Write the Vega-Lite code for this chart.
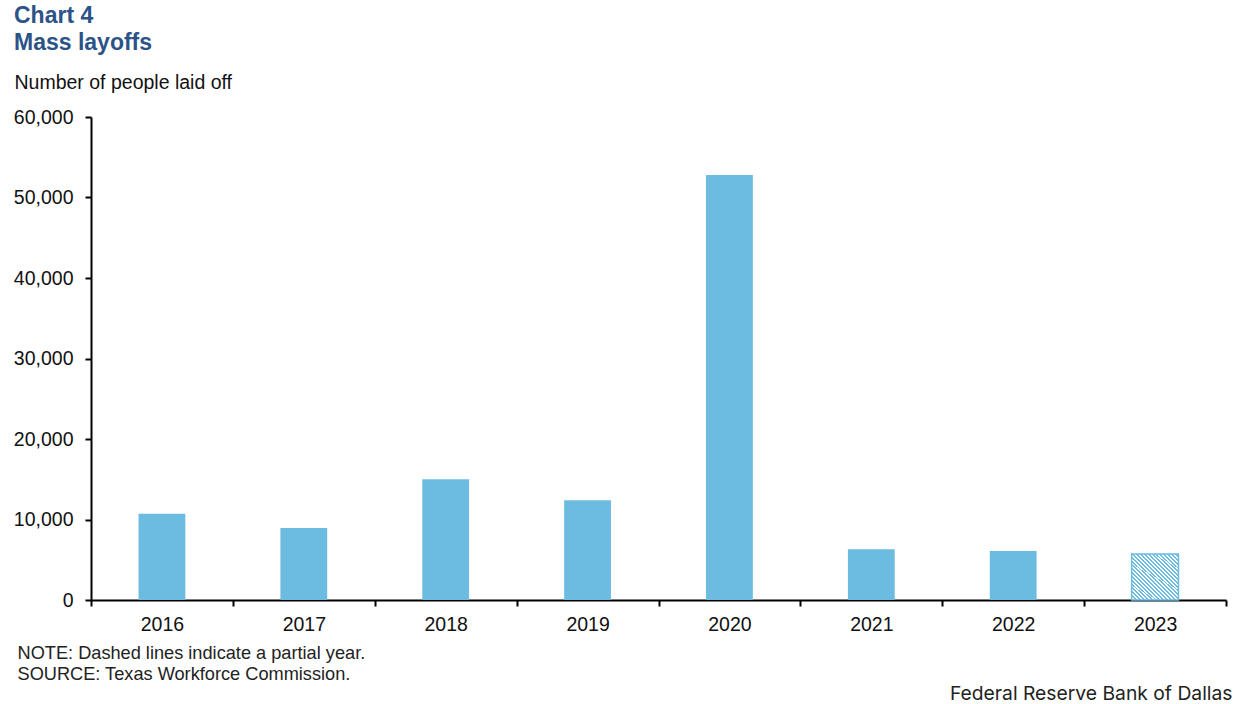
{
  "$schema": "https://vega.github.io/schema/vega-lite/v6.json",
  "autosize": {"type": "none"},
  "width": 1135,
  "height": 483,
  "padding": {"left": 91, "top": 117, "right": 18, "bottom": 104},
  "background": "white",
  "config": {
    "view": {"stroke": null},
    "font": "Liberation Sans",
    "axisX": {
      "title": ["NOTE: Dashed lines indicate a partial year.", "SOURCE: Texas Workforce Commission."],
      "titleX": -74,
      "titleY": 44,
      "titleAlign": "left",
      "titleAnchor": "start",
      "titleBaseline": "top",
      "titleFontSize": 18.2,
      "titleFontWeight": "normal",
      "titleLineHeight": 21.5,
      "titleColor": "#222222",
      "labelAngle": 0,
      "labelFontSize": 19.5,
      "labelColor": "#111111",
      "labelPadding": 9,
      "tickBand": "extent",
      "tickSize": 6,
      "tickWidth": 2,
      "tickColor": "black",
      "domainColor": "black",
      "domainWidth": 2
    }
  },
  "title": {
    "text": ["Chart 4", "Mass layoffs"],
    "anchor": "start",
    "frame": "group",
    "dx": -77,
    "fontSize": 23,
    "font": "Liberation Sans",
    "fontWeight": "bold",
    "color": "#2B5387",
    "lineHeight": 27,
    "offset": 17
  },
  "data": {
    "values": [
      {"year": "2016", "layoffs": 10700},
      {"year": "2017", "layoffs": 8950},
      {"year": "2018", "layoffs": 15000},
      {"year": "2019", "layoffs": 12400},
      {"year": "2020", "layoffs": 52800},
      {"year": "2021", "layoffs": 6300},
      {"year": "2022", "layoffs": 6100},
      {"year": "2023", "layoffs": 5700}
    ]
  },
  "layer": [
    {
      "transform": [{"filter": "datum.year !== '2023'"}],
      "mark": {"type": "bar", "width": {"band": 0.33}, "color": "#6CBBE0"},
      "encoding": {
        "x": {
          "field": "year",
          "type": "ordinal",
          "sort": null,
          "scale": {"domain": ["2016","2017","2018","2019","2020","2021","2022","2023"], "paddingInner": 0, "paddingOuter": 0},
          "axis": {"title": ["NOTE: Dashed lines indicate a partial year.", "SOURCE: Texas Workforce Commission."]}
        },
        "y": {
          "field": "layoffs",
          "type": "quantitative",
          "scale": {"domain": [0, 60000], "nice": false},
          "axis": {
            "title": "Number of people laid off",
            "titleAngle": 0,
            "titleX": -77,
            "titleY": -29,
            "titleAlign": "left",
            "titleBaseline": "alphabetic",
            "titleFontSize": 19.5,
            "titleFontWeight": "normal",
            "titleColor": "#111111",
            "values": [0, 10000, 20000, 30000, 40000, 50000, 60000],
            "format": ",.0f",
            "labelFontSize": 19.5,
            "labelColor": "#111111",
            "labelPadding": 12,
            "tickSize": 6,
            "tickWidth": 2,
            "tickColor": "black",
            "domainColor": "black",
            "domainWidth": 2,
            "grid": false
          }
        }
      }
    },
    {
      "transform": [{"filter": "datum.year === '2023'"}],
      "mark": {
        "type": "bar",
        "width": {"band": 0.33},
        "stroke": "#6CBBE0",
        "strokeWidth": 1.5,
        "fill": {
          "gradient": "linear",
          "x1": 0, "y1": 1, "x2": 1, "y2": 0,
          "stops": [
            {"offset": 0, "color": "#6CBBE0"}, {"offset": 0.0208, "color": "#6CBBE0"}, {"offset": 0.0208, "color": "#FFFFFF"}, {"offset": 0.0417, "color": "#FFFFFF"},
            {"offset": 0.0417, "color": "#6CBBE0"}, {"offset": 0.0625, "color": "#6CBBE0"}, {"offset": 0.0625, "color": "#FFFFFF"}, {"offset": 0.0833, "color": "#FFFFFF"},
            {"offset": 0.0833, "color": "#6CBBE0"}, {"offset": 0.1042, "color": "#6CBBE0"}, {"offset": 0.1042, "color": "#FFFFFF"}, {"offset": 0.125, "color": "#FFFFFF"},
            {"offset": 0.125, "color": "#6CBBE0"}, {"offset": 0.1458, "color": "#6CBBE0"}, {"offset": 0.1458, "color": "#FFFFFF"}, {"offset": 0.1667, "color": "#FFFFFF"},
            {"offset": 0.1667, "color": "#6CBBE0"}, {"offset": 0.1875, "color": "#6CBBE0"}, {"offset": 0.1875, "color": "#FFFFFF"}, {"offset": 0.2083, "color": "#FFFFFF"},
            {"offset": 0.2083, "color": "#6CBBE0"}, {"offset": 0.2292, "color": "#6CBBE0"}, {"offset": 0.2292, "color": "#FFFFFF"}, {"offset": 0.25, "color": "#FFFFFF"},
            {"offset": 0.25, "color": "#6CBBE0"}, {"offset": 0.2708, "color": "#6CBBE0"}, {"offset": 0.2708, "color": "#FFFFFF"}, {"offset": 0.2917, "color": "#FFFFFF"},
            {"offset": 0.2917, "color": "#6CBBE0"}, {"offset": 0.3125, "color": "#6CBBE0"}, {"offset": 0.3125, "color": "#FFFFFF"}, {"offset": 0.3333, "color": "#FFFFFF"},
            {"offset": 0.3333, "color": "#6CBBE0"}, {"offset": 0.3542, "color": "#6CBBE0"}, {"offset": 0.3542, "color": "#FFFFFF"}, {"offset": 0.375, "color": "#FFFFFF"},
            {"offset": 0.375, "color": "#6CBBE0"}, {"offset": 0.3958, "color": "#6CBBE0"}, {"offset": 0.3958, "color": "#FFFFFF"}, {"offset": 0.4167, "color": "#FFFFFF"},
            {"offset": 0.4167, "color": "#6CBBE0"}, {"offset": 0.4375, "color": "#6CBBE0"}, {"offset": 0.4375, "color": "#FFFFFF"}, {"offset": 0.4583, "color": "#FFFFFF"},
            {"offset": 0.4583, "color": "#6CBBE0"}, {"offset": 0.4792, "color": "#6CBBE0"}, {"offset": 0.4792, "color": "#FFFFFF"}, {"offset": 0.5, "color": "#FFFFFF"},
            {"offset": 0.5, "color": "#6CBBE0"}, {"offset": 0.5208, "color": "#6CBBE0"}, {"offset": 0.5208, "color": "#FFFFFF"}, {"offset": 0.5417, "color": "#FFFFFF"},
            {"offset": 0.5417, "color": "#6CBBE0"}, {"offset": 0.5625, "color": "#6CBBE0"}, {"offset": 0.5625, "color": "#FFFFFF"}, {"offset": 0.5833, "color": "#FFFFFF"},
            {"offset": 0.5833, "color": "#6CBBE0"}, {"offset": 0.6042, "color": "#6CBBE0"}, {"offset": 0.6042, "color": "#FFFFFF"}, {"offset": 0.625, "color": "#FFFFFF"},
            {"offset": 0.625, "color": "#6CBBE0"}, {"offset": 0.6458, "color": "#6CBBE0"}, {"offset": 0.6458, "color": "#FFFFFF"}, {"offset": 0.6667, "color": "#FFFFFF"},
            {"offset": 0.6667, "color": "#6CBBE0"}, {"offset": 0.6875, "color": "#6CBBE0"}, {"offset": 0.6875, "color": "#FFFFFF"}, {"offset": 0.7083, "color": "#FFFFFF"},
            {"offset": 0.7083, "color": "#6CBBE0"}, {"offset": 0.7292, "color": "#6CBBE0"}, {"offset": 0.7292, "color": "#FFFFFF"}, {"offset": 0.75, "color": "#FFFFFF"},
            {"offset": 0.75, "color": "#6CBBE0"}, {"offset": 0.7708, "color": "#6CBBE0"}, {"offset": 0.7708, "color": "#FFFFFF"}, {"offset": 0.7917, "color": "#FFFFFF"},
            {"offset": 0.7917, "color": "#6CBBE0"}, {"offset": 0.8125, "color": "#6CBBE0"}, {"offset": 0.8125, "color": "#FFFFFF"}, {"offset": 0.8333, "color": "#FFFFFF"},
            {"offset": 0.8333, "color": "#6CBBE0"}, {"offset": 0.8542, "color": "#6CBBE0"}, {"offset": 0.8542, "color": "#FFFFFF"}, {"offset": 0.875, "color": "#FFFFFF"},
            {"offset": 0.875, "color": "#6CBBE0"}, {"offset": 0.8958, "color": "#6CBBE0"}, {"offset": 0.8958, "color": "#FFFFFF"}, {"offset": 0.9167, "color": "#FFFFFF"},
            {"offset": 0.9167, "color": "#6CBBE0"}, {"offset": 0.9375, "color": "#6CBBE0"}, {"offset": 0.9375, "color": "#FFFFFF"}, {"offset": 0.9583, "color": "#FFFFFF"},
            {"offset": 0.9583, "color": "#6CBBE0"}, {"offset": 0.9792, "color": "#6CBBE0"}, {"offset": 0.9792, "color": "#FFFFFF"}, {"offset": 1, "color": "#FFFFFF"}
          ]
        }
      },
      "encoding": {
        "x": {
          "field": "year",
          "type": "ordinal",
          "sort": null,
          "axis": {"title": ["NOTE: Dashed lines indicate a partial year.", "SOURCE: Texas Workforce Commission."]}
        },
        "y": {
          "field": "layoffs",
          "type": "quantitative",
          "scale": {"domain": [0, 60000], "nice": false},
          "axis": {
            "orient": "right",
            "title": "Federal Reserve Bank of Dallas",
            "titleAngle": 0,
            "titleX": 6,
            "titleY": 582,
            "titleAlign": "right",
            "titleBaseline": "alphabetic",
            "titleFont": "Inter",
            "titleFontSize": 19.3,
            "titleFontWeight": "normal",
            "titleColor": "#222222",
            "labels": false,
            "ticks": false,
            "domain": false,
            "grid": false
          }
        }
      }
    }
  ],
  "resolve": {"scale": {"y": "independent"}, "axis": {"y": "independent"}}
}
